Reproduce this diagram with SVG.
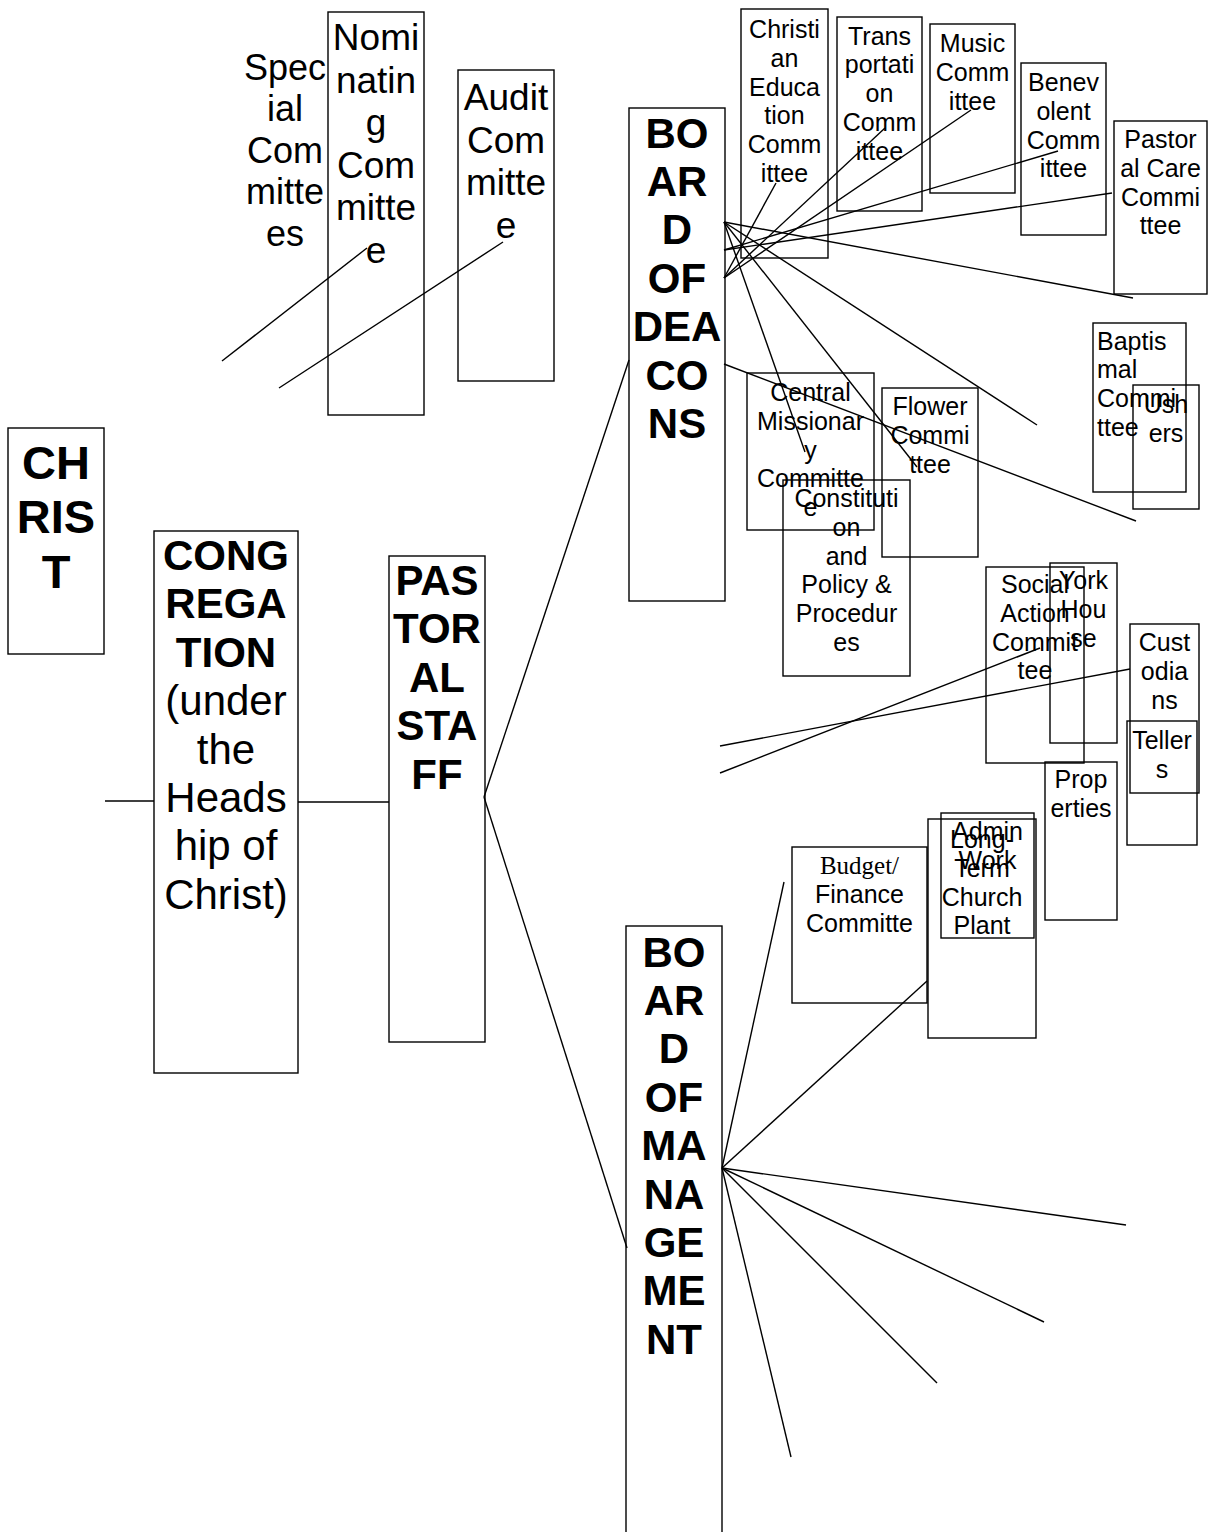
<svg xmlns="http://www.w3.org/2000/svg" width="1209" height="1532" viewBox="0 0 1209 1532">
<style>
rect{fill:none;stroke:#000;stroke-width:1.4}
line{stroke:#000;stroke-width:1.4}
text{font-family:"Liberation Sans",Arial,sans-serif;fill:#000;text-anchor:middle}
.b{font-weight:bold;font-size:42px}
.c{font-weight:bold;font-size:47px}
.m{font-size:37px}
.s{font-size:25px}
.r{font-size:42px}
.serif{font-family:"Liberation Serif","Times New Roman",serif}
</style>
<rect x="0" y="0" width="1209" height="1532" style="fill:#fff;stroke:none"/>
<g id="connectors">
<line x1="105" y1="801" x2="154" y2="801"/>
<line x1="298" y1="802" x2="389" y2="802"/>
<line x1="484" y1="797" x2="629" y2="360"/>
<line x1="484" y1="797" x2="627" y2="1248"/>
<line x1="222" y1="361" x2="367" y2="248"/>
<line x1="279" y1="388" x2="503" y2="242"/>
<line x1="724" y1="222" x2="1133" y2="298"/>
<line x1="724" y1="222" x2="1037" y2="425"/>
<line x1="724" y1="222" x2="917" y2="467"/>
<line x1="724" y1="222" x2="805" y2="452"/>
<line x1="724" y1="250" x2="1112" y2="193"/>
<line x1="724" y1="250" x2="1058" y2="151"/>
<line x1="724" y1="278" x2="971" y2="110"/>
<line x1="724" y1="278" x2="885" y2="128"/>
<line x1="724" y1="278" x2="776" y2="183"/>
<line x1="724" y1="364" x2="1136" y2="521"/>
<line x1="720" y1="746" x2="1130" y2="669"/>
<line x1="720" y1="773" x2="1040" y2="648"/>
<line x1="722" y1="1168" x2="784" y2="882"/>
<line x1="722" y1="1168" x2="927" y2="981"/>
<line x1="722" y1="1168" x2="1126" y2="1225"/>
<line x1="722" y1="1168" x2="1044" y2="1322"/>
<line x1="722" y1="1168" x2="937" y2="1383"/>
<line x1="722" y1="1168" x2="791" y2="1457"/>
</g>
<g id="christ">
<rect x="8" y="428" width="96" height="226"/>
<text class="c"><tspan x="56" y="478.5">CH</tspan><tspan x="56" y="533">RIS</tspan><tspan x="56" y="587.5">T</tspan></text>
</g>
<g id="congregation">
<rect x="154" y="531" width="144" height="542"/>
<text class="b"><tspan x="226" y="570">CONG</tspan><tspan x="226" y="618.4">REGA</tspan><tspan x="226" y="666.8">TION</tspan></text>
<text class="r"><tspan x="226" y="715.2">(under</tspan><tspan x="226" y="763.6">the</tspan><tspan x="226" y="812">Heads</tspan><tspan x="226" y="860.4">hip of</tspan><tspan x="226" y="908.8">Christ)</tspan></text>
</g>
<g id="pastoral-staff">
<rect x="389" y="556" width="96" height="486"/>
<text class="b"><tspan x="437" y="595">PAS</tspan><tspan x="437" y="643.4">TOR</tspan><tspan x="437" y="691.8">AL</tspan><tspan x="437" y="740.2">STA</tspan><tspan x="437" y="788.6">FF</tspan></text>
</g>
<g id="board-of-deacons">
<rect x="629" y="108" width="96" height="493"/>
<text class="b"><tspan x="677" y="147.5">BO</tspan><tspan x="677" y="195.9">AR</tspan><tspan x="677" y="244.3">D</tspan><tspan x="677" y="292.7">OF</tspan><tspan x="677" y="341.1">DEA</tspan><tspan x="677" y="389.5">CO</tspan><tspan x="677" y="437.9">NS</tspan></text>
</g>
<g id="board-of-management">
<rect x="626" y="926" width="96" height="620"/>
<text class="b"><tspan x="674" y="966.5">BO</tspan><tspan x="674" y="1014.9">AR</tspan><tspan x="674" y="1063.3">D</tspan><tspan x="674" y="1111.7">OF</tspan><tspan x="674" y="1160.1">MA</tspan><tspan x="674" y="1208.5">NA</tspan><tspan x="674" y="1256.9">GE</tspan><tspan x="674" y="1305.3">ME</tspan><tspan x="674" y="1353.7">NT</tspan></text>
</g>
<g id="special-committees">
<text style="font-size:36px"><tspan x="285" y="80">Spec</tspan><tspan x="285" y="121.4">ial</tspan><tspan x="285" y="162.8">Com</tspan><tspan x="285" y="204.2">mitte</tspan><tspan x="285" y="245.6">es</tspan></text>
</g>
<g id="nominating-committee">
<rect x="328" y="12" width="96" height="403"/>
<text class="m"><tspan x="376" y="50">Nomi</tspan><tspan x="376" y="92.6">natin</tspan><tspan x="376" y="135.2">g</tspan><tspan x="376" y="177.8">Com</tspan><tspan x="376" y="220.4">mitte</tspan><tspan x="376" y="263">e</tspan></text>
</g>
<g id="audit-committee">
<rect x="458" y="70" width="96" height="311"/>
<text class="m"><tspan x="506" y="110">Audit</tspan><tspan x="506" y="152.6">Com</tspan><tspan x="506" y="195.2">mitte</tspan><tspan x="506" y="237.8">e</tspan></text>
</g>
<g id="christian-education">
<rect x="741" y="9" width="87" height="249"/>
<text class="s"><tspan x="784.5" y="38">Christi</tspan><tspan x="784.5" y="66.75">an</tspan><tspan x="784.5" y="95.5">Educa</tspan><tspan x="784.5" y="124.25">tion</tspan><tspan x="784.5" y="153">Comm</tspan><tspan x="784.5" y="181.75">ittee</tspan></text>
</g>
<g id="transportation">
<rect x="837" y="17" width="85" height="194"/>
<text class="s"><tspan x="879.5" y="44.5">Trans</tspan><tspan x="879.5" y="73.25">portati</tspan><tspan x="879.5" y="102">on</tspan><tspan x="879.5" y="130.75">Comm</tspan><tspan x="879.5" y="159.5">ittee</tspan></text>
</g>
<g id="music">
<rect x="930" y="24" width="85" height="169"/>
<text class="s"><tspan x="972.5" y="52">Music</tspan><tspan x="972.5" y="80.75">Comm</tspan><tspan x="972.5" y="109.5">ittee</tspan></text>
</g>
<g id="benevolent">
<rect x="1021" y="63" width="85" height="172"/>
<text class="s"><tspan x="1063.5" y="91">Benev</tspan><tspan x="1063.5" y="119.75">olent</tspan><tspan x="1063.5" y="148.5">Comm</tspan><tspan x="1063.5" y="177.25">ittee</tspan></text>
</g>
<g id="pastoral-care">
<rect x="1114" y="121" width="93" height="173"/>
<text class="s"><tspan x="1160.5" y="148">Pastor</tspan><tspan x="1160.5" y="176.75">al Care</tspan><tspan x="1160.5" y="205.5">Commi</tspan><tspan x="1160.5" y="234.25">ttee</tspan></text>
</g>
<g id="central-missionary">
<rect x="747" y="373" width="127" height="157"/>
<text class="s"><tspan x="810.5" y="401">Central</tspan><tspan x="810.5" y="429.75">Missionar</tspan><tspan x="810.5" y="458.5">y</tspan><tspan x="810.5" y="487.25">Committe</tspan><tspan x="810.5" y="516">e</tspan></text>
</g>
<g id="flower">
<rect x="882" y="388" width="96" height="169"/>
<text class="s"><tspan x="930" y="415">Flower</tspan><tspan x="930" y="443.75">Commi</tspan><tspan x="930" y="472.5">ttee</tspan></text>
</g>
<g id="constitution">
<rect x="783" y="480" width="127" height="196"/>
<text class="s"><tspan x="846.5" y="507">Constituti</tspan><tspan x="846.5" y="535.75">on</tspan><tspan x="846.5" y="564.5">and</tspan><tspan x="846.5" y="593.25">Policy &amp;</tspan><tspan x="846.5" y="622">Procedur</tspan><tspan x="846.5" y="650.75">es</tspan></text>
</g>
<g id="baptismal">
<rect x="1093" y="323" width="93" height="169"/>
<text class="s" style="text-anchor:start"><tspan x="1097" y="349.5">Baptis</tspan><tspan x="1097" y="378.25">mal</tspan><tspan x="1097" y="407">Commi</tspan><tspan x="1097" y="435.75">ttee</tspan></text>
</g>
<g id="ushers">
<rect x="1133" y="385" width="66" height="124"/>
<text class="s"><tspan x="1166" y="413">Ush</tspan><tspan x="1166" y="441.75">ers</tspan></text>
</g>
<g id="social-action">
<rect x="986" y="567" width="98" height="196"/>
<text class="s"><tspan x="1035" y="593">Social</tspan><tspan x="1035" y="621.75">Action</tspan><tspan x="1035" y="650.5">Commit</tspan><tspan x="1035" y="679.25">tee</tspan></text>
</g>
<g id="york-house">
<rect x="1050" y="563" width="67" height="180"/>
<text class="s"><tspan x="1083.5" y="589">York</tspan><tspan x="1083.5" y="617.75">Hou</tspan><tspan x="1083.5" y="646.5">se</tspan></text>
</g>
<g id="custodians">
<rect x="1130" y="624" width="69" height="169"/>
<text class="s"><tspan x="1164.5" y="651">Cust</tspan><tspan x="1164.5" y="679.75">odia</tspan><tspan x="1164.5" y="708.5">ns</tspan></text>
</g>
<g id="tellers">
<rect x="1127" y="721" width="70" height="124"/>
<text class="s"><tspan x="1162" y="749">Teller</tspan><tspan x="1162" y="777.75">s</tspan></text>
</g>
<g id="properties">
<rect x="1045" y="762" width="72" height="158"/>
<text class="s"><tspan x="1081" y="788">Prop</tspan><tspan x="1081" y="816.75">erties</tspan></text>
</g>
<g id="budget-finance">
<rect x="792" y="847" width="135" height="156"/>
<text class="s"><tspan x="859.5" y="873.5" class="serif">Budget/</tspan><tspan x="859.5" y="903">Finance</tspan><tspan x="859.5" y="931.75">Committe</tspan></text>
</g>
<g id="long-term-church-plant">
<rect x="928" y="819" width="108" height="219"/>
<text class="s"><tspan x="982" y="848">Long-</tspan><tspan x="982" y="876.75">Term</tspan><tspan x="982" y="905.5">Church</tspan><tspan x="982" y="934.25">Plant</tspan></text>
</g>
<g id="admin-work">
<rect x="941" y="813" width="93" height="125"/>
<text class="s"><tspan x="987.5" y="840">Admin</tspan><tspan x="987.5" y="868.75">Work</tspan></text>
</g>
</svg>
